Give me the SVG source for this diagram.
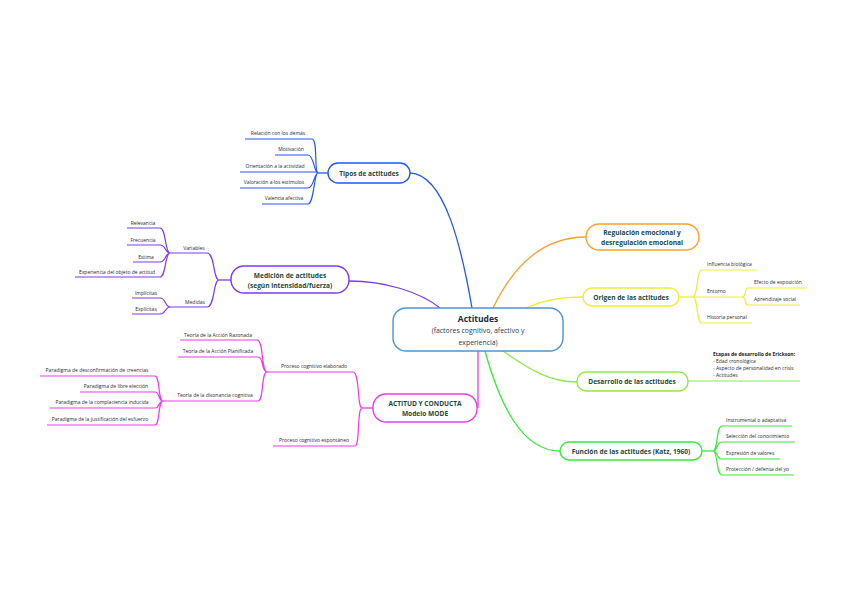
<svg xmlns="http://www.w3.org/2000/svg" width="848" height="597" viewBox="0 0 848 597">
<style>
text{font-family:"Open Sans","Noto Sans","Liberation Sans",sans-serif}
.n{font-weight:bold;font-size:6.6px;fill:#1d4a3c;text-anchor:middle}
.l{font-size:5px;fill:#2a2a2a;text-anchor:middle}
.r{font-size:5px;fill:#2a2a2a}
.box{fill:#fff;stroke-width:1.4}
.ln{fill:none;stroke-width:1.3}
.ul{fill:none;stroke-width:1.2}
.blue{stroke:#2458f0}
.pur{stroke:#7c3cef}
.mag{stroke:#ee38ee}
.org{stroke:#ffa030}
.yel{stroke:#eded3c}
.lgr{stroke:#8cea4a}
.grn{stroke:#3ae83a}
</style>
<rect width="848" height="597" fill="#fff"/>
<g id="connectors">
<path class="ln blue" d="M472,308 C462,250 445,174 410,173"/>
<path class="ln pur" d="M440,308 C420,292 385,281 349,281"/>
<path class="ln mag" d="M478,351 L478,408"/>
<path class="ln org" d="M493,308 C515,262 545,237 586,237"/>
<path class="ln yel" d="M526,308 C545,300 560,297 583,297"/>
<path class="ln lgr" d="M503,351 C530,370 550,382 577,382"/>
<path class="ln grn" d="M485,351 C500,405 522,451 560,451"/>
<path class="ln blue" d="M328,173 L318,173"/>
<path class="ul blue" d="M312,139 C318,139 314,173 318,173 M308,155 C314,155 314,173 318,173 M308,188 C314,188 314,173 318,173 M308,204 C314,204 314,173 318,173"/>
<path class="ln pur" d="M231,280 L219,280"/>
<path class="ul pur" d="M207,253 C215,253 213,280 219,280 M207,307 C215,307 213,280 219,280"/>
<path class="ul pur" d="M160,228 C166,228 165,253 170,253 M160,245 C166,245 165,253 170,253 M160,262 C166,262 165,253 170,253 M160,277 C166,277 165,253 170,253"/>
<path class="ul pur" d="M160,298 C166,298 165,307 170,307 M160,314 C166,314 165,307 170,307"/>
<path class="ln mag" d="M373,408 L362,408"/>
<path class="ul mag" d="M353,372 C360,372 357,408 362,408 M355,446 C360,446 357,408 362,408"/>
<path class="ul mag" d="M257,340 C264,340 261,372 267,372 M258,357 C264,357 261,372 267,372 M258,401 C264,401 261,372 267,372"/>
<path class="ul mag" d="M155,376 C160,376 158,401 163,401 M155,392 C160,392 158,401 163,401 M155,408 C160,408 158,401 163,401 M155,425 C160,425 158,401 163,401"/>
<path class="ln yel" d="M679,297 L693,297"/>
<path class="ul yel" d="M693,297 C698,297 696,270 702,270 M693,297 C698,297 696,323 702,323"/>
<path class="ul yel" d="M742,297 C747,297 744,288 748,288 M742,297 C747,297 744,305 748,305"/>
<path class="ln grn" d="M702,451 L713,451"/>
<path class="ul grn" d="M713,451 C718,451 716,426 722,426 M713,451 C718,451 716,442 722,442 M713,451 C718,451 716,459 722,459 M713,451 C718,451 716,475 722,475"/>
</g>
<g id="center">
<rect class="box" x="393" y="308" width="170" height="43" rx="13" stroke="#4f94d4"/>
<text x="478" y="322" style="font-weight:bold;font-size:8.5px;fill:#1d2a3c;text-anchor:middle">Actitudes</text>
<text x="478" y="333" style="font-size:6.9px;fill:#2a3a50;text-anchor:middle">(factores cognitivo, afectivo y</text>
<text x="478" y="345" style="font-size:6.9px;fill:#2a3a50;text-anchor:middle">experiencia)</text>
</g>
<g id="tipos">
<rect class="box blue" x="328" y="163" width="82" height="20" rx="10"/>
<text class="n" x="369" y="175.5">Tipos de actitudes</text>
</g>
<g id="tipos-leaves">
<path class="ul blue" d="M245,139 H312 M275,155 H308 M240,172 H318 M240,188 H308 M262,204 H308"/>
<text class="l" x="278" y="135">Relación con los demás</text>
<text class="l" x="291" y="151">Motivación</text>
<text class="l" x="275" y="168">Orientación a la actividad</text>
<text class="l" x="274" y="184">Valoración a los estímulos</text>
<text class="l" x="284" y="200">Valencia afectiva</text>
</g>
<g id="medicion">
<rect class="box pur" x="231" y="266" width="118" height="27" rx="13"/>
<text class="n" x="290" y="277.5">Medición de actitudes</text>
<text class="n" x="290" y="287.5">(según intensidad/fuerza)</text>
</g>
<g id="medicion-leaves">
<path class="ul pur" d="M170,253 H207 M170,307 H207"/>
<text class="l" x="194" y="249.5">Variables</text>
<text class="l" x="195" y="303.5">Medidas</text>
<path class="ul pur" d="M127,228 H160 M127,245 H160 M133,262 H160 M75,277 H160 M132,298 H160 M132,314 H160"/>
<text class="l" x="143" y="224.5">Relevancia</text>
<text class="l" x="143" y="241.5">Frecuencia</text>
<text class="l" x="146" y="258.5">Estima</text>
<text class="l" x="117" y="273.5">Experiencia del objeto de actitud</text>
<text class="l" x="146" y="294.5">Implícitas</text>
<text class="l" x="146" y="310.5">Explícitas</text>
</g>
<g id="actitud-conducta">
<rect class="box mag" x="373" y="394" width="104" height="28" rx="13"/>
<text class="n" x="425" y="405.5">ACTITUD Y CONDUCTA</text>
<text class="n" x="425" y="416">Modelo MODE</text>
</g>
<g id="actitud-leaves">
<path class="ul mag" d="M267,372 H353 M273,446 H355"/>
<text class="l" x="314" y="368">Proceso cognitivo elaborado</text>
<text class="l" x="314" y="442">Proceso cognitivo espontáneo</text>
<path class="ul mag" d="M180,340 H257 M178,357 H258 M163,401 H258"/>
<text class="l" x="218" y="336.5">Teoría de la Acción Razonada</text>
<text class="l" x="218" y="353">Teoría de la Acción Planificada</text>
<text class="l" x="215" y="397">Teoría de la disonancia cognitiva</text>
<path class="ul mag" d="M40,376 H155 M80,392 H155 M50,408 H155 M47,425 H155"/>
<text class="l" x="97" y="372">Paradigma de desconfirmación de creencias</text>
<text class="l" x="116" y="388">Paradigma de libre elección</text>
<text class="l" x="102" y="404">Paradigma de la complaciencia inducida</text>
<text class="l" x="100" y="421">Paradigma de la justificación del esfuerzo</text>
</g>
<g id="regulacion">
<rect class="box org" x="586" y="224" width="113" height="26" rx="13"/>
<text class="n" x="642" y="234.5">Regulación emocional y</text>
<text class="n" x="642" y="245">desregulación emocional</text>
</g>
<g id="origen">
<rect class="box yel" x="583" y="288" width="96" height="18" rx="9"/>
<text class="n" x="631" y="299.5">Origen de las actitudes</text>
</g>
<g id="origen-leaves">
<path class="ul yel" d="M702,270 H757 M693,297 H742 M702,323 H752 M748,288 H807 M748,305 H800"/>
<text class="r" x="707" y="266">Influencia biológica</text>
<text class="r" x="707" y="293">Entorno</text>
<text class="r" x="707" y="319">Historia personal</text>
<text class="r" x="754" y="284">Efecto de exposición</text>
<text class="r" x="754" y="301">Aprendizaje social</text>
</g>
<g id="desarrollo">
<rect class="box lgr" x="577" y="372" width="111" height="19" rx="9"/>
<text class="n" x="632" y="384">Desarrollo de las actitudes</text>
</g>
<g id="desarrollo-leaf">
<path class="ul lgr" d="M688,381 H800"/>
<text class="r" x="713" y="355.5" style="font-weight:bold;fill:#222">Etapas de desarrollo de Erickson:</text>
<text class="r" x="713" y="362.5">- Edad cronológica</text>
<text class="r" x="713" y="369.5">- Aspecto de personalidad en crisis</text>
<text class="r" x="713" y="376.5">- Actitudes</text>
</g>
<g id="funcion">
<rect class="box grn" x="560" y="442" width="142" height="18" rx="9"/>
<text class="n" x="631" y="453.5">Función de las actitudes (Katz, 1960)</text>
</g>
<g id="funcion-leaves">
<path class="ul grn" d="M722,426 H792 M722,442 H795 M722,459 H780 M722,475 H794"/>
<text class="r" x="726" y="422">Instrumental o adaptativa</text>
<text class="r" x="726" y="438">Selección del conocimiento</text>
<text class="r" x="726" y="455">Expresión de valores</text>
<text class="r" x="726" y="471">Protección / defensa del yo</text>
</g>
</svg>
